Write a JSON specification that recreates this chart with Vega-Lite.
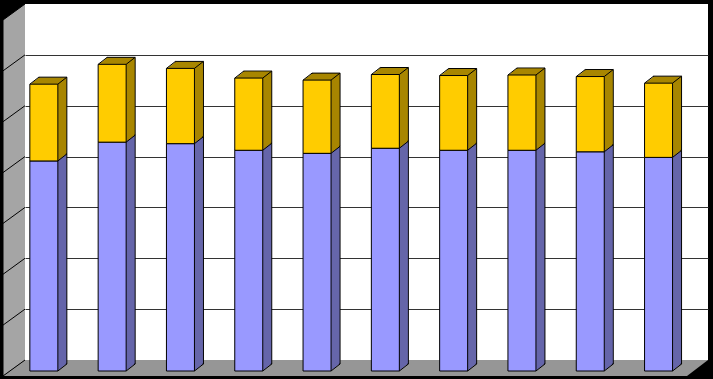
{
  "$schema": "https://vega.github.io/schema/vega-lite/v6.json",
  "width": 683,
  "height": 356,
  "autosize": {"type": "none"},
  "padding": {"left": 25, "top": 4, "right": 5, "bottom": 19},
  "background": "black",
  "view": {"fill": "white", "stroke": null},
  "data": {
    "values": [
      {"cat": "1", "series": "Series 1", "value": 4.13}, {"cat": "1", "series": "Series 2", "value": 1.51},
      {"cat": "2", "series": "Series 1", "value": 4.50}, {"cat": "2", "series": "Series 2", "value": 1.53},
      {"cat": "3", "series": "Series 1", "value": 4.47}, {"cat": "3", "series": "Series 2", "value": 1.48},
      {"cat": "4", "series": "Series 1", "value": 4.34}, {"cat": "4", "series": "Series 2", "value": 1.42},
      {"cat": "5", "series": "Series 1", "value": 4.28}, {"cat": "5", "series": "Series 2", "value": 1.44},
      {"cat": "6", "series": "Series 1", "value": 4.38}, {"cat": "6", "series": "Series 2", "value": 1.45},
      {"cat": "7", "series": "Series 1", "value": 4.34}, {"cat": "7", "series": "Series 2", "value": 1.47},
      {"cat": "8", "series": "Series 1", "value": 4.34}, {"cat": "8", "series": "Series 2", "value": 1.48},
      {"cat": "9", "series": "Series 1", "value": 4.31}, {"cat": "9", "series": "Series 2", "value": 1.48},
      {"cat": "10", "series": "Series 1", "value": 4.20}, {"cat": "10", "series": "Series 2", "value": 1.46}
    ]
  },
  "transform": [
    {"stack": "value", "groupby": ["cat"], "sort": [{"field": "series", "order": "ascending"}], "as": ["v0", "v1"]}
  ],
  "layer": [
    {
      "transform": [{"filter": "datum.cat == '1' && datum.series == 'Series 1'"}],
      "mark": {"type": "point", "shape": "M0,0L683,0L662,16L-22,16Z", "size": 4, "filled": true, "fill": "#969696", "stroke": null, "opacity": 1},
      "encoding": {
        "x": {"datum": "1", "type": "nominal", "bandPosition": 0, "scale": {"type": "band", "domain": ["1","2","3","4","5","6","7","8","9","10"], "paddingInner": 0, "paddingOuter": 0}, "axis": null},
        "y": {"datum": 0, "type": "quantitative", "scale": {"domain": [0, 7], "nice": false, "zero": true}, "axis": {"labels": false, "ticks": false, "domain": false, "title": null, "grid": true, "values": [1, 2, 3, 4, 5, 6], "gridColor": "#333333", "gridWidth": 1, "gridOpacity": 1}}
      }
    },
    {
      "transform": [{"filter": "datum.cat == '1' && datum.series == 'Series 1'"}],
      "mark": {"type": "point", "shape": "M0,0L-22,16L-22,-340L0,-356M0,-50.86L-22,-34.86M0,-101.71L-22,-85.71M0,-152.57L-22,-136.57M0,-203.43L-22,-187.43M0,-254.29L-22,-238.29M0,-305.14L-22,-289.14", "size": 4, "filled": true, "fill": "#A5A5A5", "stroke": "black", "strokeWidth": 1, "opacity": 1},
      "encoding": {
        "x": {"datum": "1", "type": "nominal", "bandPosition": 0},
        "y": {"datum": 0, "type": "quantitative"}
      }
    },
    {"mark": {"type": "bar", "width": 28, "xOffset": -6.3, "x2Offset": -6.3, "yOffset": 4, "y2Offset": 4, "stroke": "black", "strokeWidth": 1},
     "encoding": {"x": {"field": "cat", "type": "nominal"}, "y": {"field": "v1", "type": "quantitative"}, "y2": {"field": "v0"},
       "fill": {"field": "series", "type": "nominal", "scale": {"domain": ["Series 1", "Series 2"], "range": ["#6666AA", "#A88600"]}, "legend": null}}},
    {"mark": {"type": "bar", "width": 28, "xOffset": -7.3, "x2Offset": -7.3, "yOffset": 4.78, "y2Offset": 4.78},
     "encoding": {"x": {"field": "cat", "type": "nominal"}, "y": {"field": "v1", "type": "quantitative"}, "y2": {"field": "v0"},
       "fill": {"field": "series", "type": "nominal", "legend": null}}},
    {"mark": {"type": "bar", "width": 28, "xOffset": -8.3, "x2Offset": -8.3, "yOffset": 5.56, "y2Offset": 5.56},
     "encoding": {"x": {"field": "cat", "type": "nominal"}, "y": {"field": "v1", "type": "quantitative"}, "y2": {"field": "v0"},
       "fill": {"field": "series", "type": "nominal", "legend": null}}},
    {"mark": {"type": "bar", "width": 28, "xOffset": -9.3, "x2Offset": -9.3, "yOffset": 6.33, "y2Offset": 6.33},
     "encoding": {"x": {"field": "cat", "type": "nominal"}, "y": {"field": "v1", "type": "quantitative"}, "y2": {"field": "v0"},
       "fill": {"field": "series", "type": "nominal", "legend": null}}},
    {"mark": {"type": "bar", "width": 28, "xOffset": -10.3, "x2Offset": -10.3, "yOffset": 7.11, "y2Offset": 7.11},
     "encoding": {"x": {"field": "cat", "type": "nominal"}, "y": {"field": "v1", "type": "quantitative"}, "y2": {"field": "v0"},
       "fill": {"field": "series", "type": "nominal", "legend": null}}},
    {"mark": {"type": "bar", "width": 28, "xOffset": -11.3, "x2Offset": -11.3, "yOffset": 7.89, "y2Offset": 7.89},
     "encoding": {"x": {"field": "cat", "type": "nominal"}, "y": {"field": "v1", "type": "quantitative"}, "y2": {"field": "v0"},
       "fill": {"field": "series", "type": "nominal", "legend": null}}},
    {"mark": {"type": "bar", "width": 28, "xOffset": -12.3, "x2Offset": -12.3, "yOffset": 8.67, "y2Offset": 8.67},
     "encoding": {"x": {"field": "cat", "type": "nominal"}, "y": {"field": "v1", "type": "quantitative"}, "y2": {"field": "v0"},
       "fill": {"field": "series", "type": "nominal", "legend": null}}},
    {"mark": {"type": "bar", "width": 28, "xOffset": -13.3, "x2Offset": -13.3, "yOffset": 9.44, "y2Offset": 9.44},
     "encoding": {"x": {"field": "cat", "type": "nominal"}, "y": {"field": "v1", "type": "quantitative"}, "y2": {"field": "v0"},
       "fill": {"field": "series", "type": "nominal", "legend": null}}},
    {"mark": {"type": "bar", "width": 28, "xOffset": -14.3, "x2Offset": -14.3, "yOffset": 10.22, "y2Offset": 10.22},
     "encoding": {"x": {"field": "cat", "type": "nominal"}, "y": {"field": "v1", "type": "quantitative"}, "y2": {"field": "v0"},
       "fill": {"field": "series", "type": "nominal", "legend": null}}},
    {"mark": {"type": "bar", "width": 28, "xOffset": -15.3, "x2Offset": -15.3, "yOffset": 11, "y2Offset": 11, "stroke": "black", "strokeWidth": 1},
     "encoding": {"x": {"field": "cat", "type": "nominal"}, "y": {"field": "v1", "type": "quantitative"}, "y2": {"field": "v0"},
       "color": {"field": "series", "type": "nominal", "scale": {"domain": ["Series 1", "Series 2"], "range": ["#9999FF", "#FFCC00"]}, "legend": null}}},
    {"transform": [{"filter": "datum.series == 'Series 2'"}],
     "mark": {"type": "rule", "color": "black", "strokeWidth": 1, "xOffset": -29.3, "x2Offset": -20.3, "yOffset": 11, "y2Offset": 4},
     "encoding": {"x": {"field": "cat", "type": "nominal", "bandPosition": 0.5}, "x2": {"field": "cat", "bandPosition": 0.5}, "y": {"field": "v1", "type": "quantitative"}, "y2": {"field": "v1"}}},
    {"mark": {"type": "rule", "color": "black", "strokeWidth": 1, "xOffset": -1.3, "x2Offset": 7.7, "yOffset": 11, "y2Offset": 4},
     "encoding": {"x": {"field": "cat", "type": "nominal", "bandPosition": 0.5}, "x2": {"field": "cat", "bandPosition": 0.5}, "y": {"field": "v1", "type": "quantitative"}, "y2": {"field": "v1"}}},
    {"transform": [{"filter": "datum.series == 'Series 1'"}],
     "mark": {"type": "rule", "color": "black", "strokeWidth": 1, "xOffset": -1.3, "x2Offset": 7.7, "yOffset": 11, "y2Offset": 4},
     "encoding": {"x": {"field": "cat", "type": "nominal", "bandPosition": 0.5}, "x2": {"field": "cat", "bandPosition": 0.5}, "y": {"field": "v0", "type": "quantitative"}, "y2": {"field": "v0"}}}
  ]
}
